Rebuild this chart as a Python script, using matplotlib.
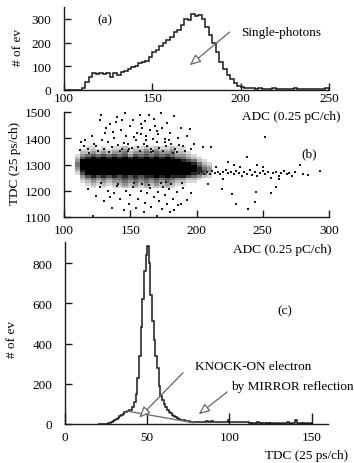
import numpy as np
import matplotlib
matplotlib.use('Agg')
import matplotlib.pyplot as plt

plt.rcParams['font.family'] = ['Liberation Serif', 'DejaVu Serif']
plt.rcParams['font.size'] = 9.5

# ---- panel (a): ADC spectrum, 2-channel bins starting at 100
adc_counts = [0, 0, 0, 0, 0,
              10, 35, 55, 70, 68, 72, 66, 70, 55, 72,
              62, 75, 80, 88, 95, 100, 112, 118, 122, 140,
              160, 170, 185, 200, 212, 225, 245, 255, 275, 300,
              295, 320, 310, 318, 300, 265, 230, 200, 160, 120,
              90, 65, 45, 30, 18, 12, 8, 10, 7, 6,
              8, 5, 6, 5, 7, 4, 5, 6, 4, 5,
              7, 4, 5, 6, 4, 5, 4, 6, 5, 8]
adc_start = 100
adc_binw = 2

# ---- panel (b): TDC vs ADC
# dense core as a density map (digits 0-9), rows from TDC 1360 down to 1210
core_adc0, core_adcw = 108, 4
core_tdc_top, core_tdcw = 1370, 10
core_rows = [
    "00110101120112121121100000",
    "01121212231223232231100000",
    "02232323342334343342210000",
    "13454545453545454543321000",
    "25676767676767676765432100",
    "37898989898989898987654210",
    "48999999899989999998876421",
    "48999999899989999998887532",
    "37999999899989999999988643",
    "26898989898989899999987653",
    "15787878787878888888776542",
    "03565656565656676766654321",
    "02343434454545454543322100",
    "01232323343434343432211000",
    "00121212232323232321100000",
    "00010101121212121210000000",
]
# sparse events outside the core
pts_adc = [113, 116, 118, 121, 124, 127, 128, 130, 131, 133, 135, 136, 138, 140, 141, 143,
           144, 146, 147, 148, 150, 151, 152, 154, 155, 156, 157, 158, 159, 160, 161, 162,
           163, 164, 165, 166, 167, 168, 169, 170, 171, 172, 173, 174, 176, 177, 178, 180,
           181, 183, 184, 186, 188, 190, 193, 195, 198, 205, 211, 252, 224,
           112, 115, 119, 123, 126, 129, 134, 137, 142, 145, 149, 153, 157, 162, 166, 170,
           175, 179, 182, 187, 191, 196, 139, 148, 158, 167, 176, 185, 132, 144,
           118, 122, 124, 127, 130, 133, 136, 138, 140, 142, 145, 147, 149, 150, 152, 154,
           156, 158, 160, 161, 163, 165, 166, 168, 170, 171, 172, 174, 175, 176, 178, 179,
           180, 182, 183, 185, 186, 188, 190, 193, 196, 209, 219, 227, 230, 239, 244, 245,
           256, 260, 128, 141, 153, 164, 173, 181, 189, 135, 159, 177,
           202, 204, 206, 208, 210, 212, 214, 216, 218, 220, 222, 224, 226, 228, 230, 232,
           234, 236, 238, 240, 242, 244, 246, 248, 250, 252, 254, 256, 258, 260, 262, 264,
           266, 268, 270, 272, 274, 278, 280, 284, 293, 233, 238, 246, 250, 262, 215, 220, 228]
pts_tdc = [1385, 1395, 1360, 1410, 1372, 1470, 1490, 1360, 1420, 1385, 1455, 1365, 1400, 1480, 1375, 1430,
           1360, 1495, 1410, 1378, 1445, 1362, 1470, 1395, 1420, 1365, 1488, 1455, 1440, 1380, 1465, 1410,
           1372, 1490, 1430, 1360, 1398, 1475, 1445, 1385, 1415, 1362, 1495, 1440, 1398, 1370, 1460, 1420,
           1380, 1485, 1360, 1400, 1440, 1372, 1410, 1436, 1379, 1367, 1367, 1405, 1310,
           1355, 1370, 1345, 1380, 1350, 1392, 1348, 1425, 1352, 1382, 1358, 1405, 1350, 1392, 1346, 1428,
           1352, 1395, 1345, 1375, 1350, 1360, 1462, 1350, 1415, 1352, 1385, 1348, 1440, 1468,
           1205, 1105, 1180, 1215, 1160, 1200, 1135, 1190, 1220, 1170, 1125, 1200, 1150, 1185, 1215, 1135,
           1170, 1200, 1120, 1155, 1190, 1210, 1140, 1175, 1105, 1195, 1160, 1130, 1215, 1185, 1150, 1205,
           1120, 1170, 1125, 1195, 1145, 1151, 1210, 1163, 1190, 1227, 1208, 1189, 1151, 1132, 1157, 1195,
           1193, 1214, 1228, 1225, 1230, 1222, 1228, 1224, 1230, 1178, 1226, 1232,
           1268, 1272, 1265, 1270, 1262, 1275, 1268, 1272, 1264, 1270, 1280, 1266, 1272, 1262, 1275, 1268,
           1258, 1272, 1265, 1278, 1260, 1270, 1255, 1268, 1275, 1262, 1270, 1250, 1268, 1272, 1258, 1266,
           1275, 1262, 1268, 1255, 1270, 1297, 1265, 1260, 1277, 1290, 1329, 1300, 1290, 1245, 1290, 1245, 1300]

# ---- panel (c): TDC spectrum, 1-channel bins starting at 20
tdc_counts = [0, 0, 0, 0, 0,
              2, 4, 7, 10, 15, 20, 26, 32, 38, 45,
              52, 58, 62, 66, 68, 72, 85, 110, 150, 230,
              340, 480, 620, 760, 840, 885, 800, 640, 510, 420,
              340, 280, 190, 140, 118, 100, 85, 72, 62, 54,
              46, 40, 34, 29, 25, 22, 20, 18, 16, 15,
              13, 12, 11, 11, 10, 9, 12, 8, 10, 11,
              9, 13, 8, 10, 15, 9, 11, 8, 12, 10,
              9, 8, 11, 9, 22, 10, 8, 12, 9, 11,
              8, 10, 9, 12, 8, 10, 9, 3, 2, 4,
              3, 2, 12, 3, 2, 3, 4, 2, 3, 2,
              3, 2, 4, 3, 2, 3, 2, 4, 3, 2,
              10, 3, 2, 3, 4, 18, 3, 2, 3, 2,
              3, 2, 3, 2, 3]
tdc_start = 20
tdc_binw = 1
# straight background line under the knock-on bump
bg_x = [38, 78]
bg_y = [64, 6]

W, H = 354, 464
fig = plt.figure(figsize=(W / 100, H / 100), dpi=100)

def box(l, t, r, b):
    return [l / W, 1 - b / H, (r - l) / W, (b - t) / H]

def fx(px):
    return px / W

def fy(py):
    return 1 - py / H

ink = '0.1'

def style(ax, xlen, ylen, xpad, ypad):
    for s in ['top', 'right']:
        ax.spines[s].set_visible(False)
    for s in ['left', 'bottom']:
        ax.spines[s].set_color(ink)
        ax.spines[s].set_linewidth(1.0)
    ax.tick_params(axis='x', direction='in', length=xlen, pad=xpad, color=ink, width=1.0)
    ax.tick_params(axis='y', direction='in', length=ylen, pad=ypad, color=ink, width=1.0)

# panel (a)
axa = fig.add_axes(box(64, 8, 329, 91))
edges_a = adc_start + adc_binw * np.arange(len(adc_counts) + 1)
axa.stairs(adc_counts, edges_a, color=ink, lw=1.1)
axa.set_xlim(100, 250)
axa.set_ylim(0, 350)
axa.set_xticks([100, 150, 200, 250])
axa.set_yticks([0, 100, 200, 300])
style(axa, 5, 5, 1.5, 9)
axa.text(123, 300, '(a)', ha='center', va='center')
axa.text(200, 245, 'Single-photons', ha='left', va='center')
axa.annotate('', xy=(170, 97), xytext=(195, 252),
             arrowprops=dict(arrowstyle='-|>,head_length=0.7,head_width=0.3',
                             fc='white', ec='0.4', lw=0.9))
fig.text(fx(18), fy(48), '# of ev', rotation=90, ha='center', va='center')
fig.text(fx(291), fy(117), 'ADC (0.25 pC/ch)', ha='center', va='center')

# panel (b)
axb = fig.add_axes(box(64, 113, 329, 218))
core = np.array([[int(c) for c in row] for row in core_rows], dtype=float)
xe = core_adc0 + core_adcw * np.arange(core.shape[1] + 1)
ye = core_tdc_top - core_tdcw * np.arange(core.shape[0] + 1)
core_m = np.ma.masked_equal(core, 0)
axb.pcolormesh(xe, ye, core_m, cmap='Greys', vmin=-1.0, vmax=7.0, shading='flat', zorder=1)
axb.scatter(pts_adc, pts_tdc, s=2.5, marker='s', color=ink, linewidths=0, zorder=2)
axb.set_xlim(100, 300)
axb.set_ylim(1100, 1500)
axb.set_xticks([100, 150, 200, 250, 300])
axb.set_yticks([1100, 1200, 1300, 1400, 1500])
style(axb, 5, 5, 5, 9)
axb.text(285, 1341, '(b)', ha='center', va='center')
fig.text(fx(15), fy(163), 'TDC (25 ps/ch)', rotation=90, ha='center', va='center')
fig.text(fx(282), fy(250), 'ADC (0.25 pC/ch)', ha='center', va='center')

# panel (c)
axc = fig.add_axes(box(65, 243, 328, 425))
edges_c = tdc_start + tdc_binw * np.arange(len(tdc_counts) + 1)
axc.stairs(tdc_counts, edges_c, color=ink, lw=1.1)
axc.plot(bg_x, bg_y, color='0.45', lw=1.0)
axc.set_xlim(0, 160)
axc.set_ylim(0, 905)
axc.set_xticks([0, 50, 100, 150])
axc.set_yticks([0, 200, 400, 600, 800])
style(axc, 8, 5, 5, 9)
axc.text(134, 565, '(c)', ha='center', va='center')
axc.text(79, 290, 'KNOCK-ON electron', ha='left', va='center')
axc.text(101, 190, 'by MIRROR reflection', ha='left', va='center')
axc.annotate('', xy=(44, 22), xytext=(73, 265),
             arrowprops=dict(arrowstyle='-|>,head_length=0.7,head_width=0.3',
                             fc='white', ec='0.4', lw=0.9))
axc.annotate('', xy=(80, 40), xytext=(100, 168),
             arrowprops=dict(arrowstyle='-|>,head_length=0.7,head_width=0.3',
                             fc='white', ec='0.4', lw=0.9))
fig.text(fx(12), fy(340), '# of ev', rotation=90, ha='center', va='center')
fig.text(fx(307), fy(456), 'TDC (25 ps/ch)', ha='center', va='center')

fig.savefig('out.png', dpi=100, facecolor='white')
